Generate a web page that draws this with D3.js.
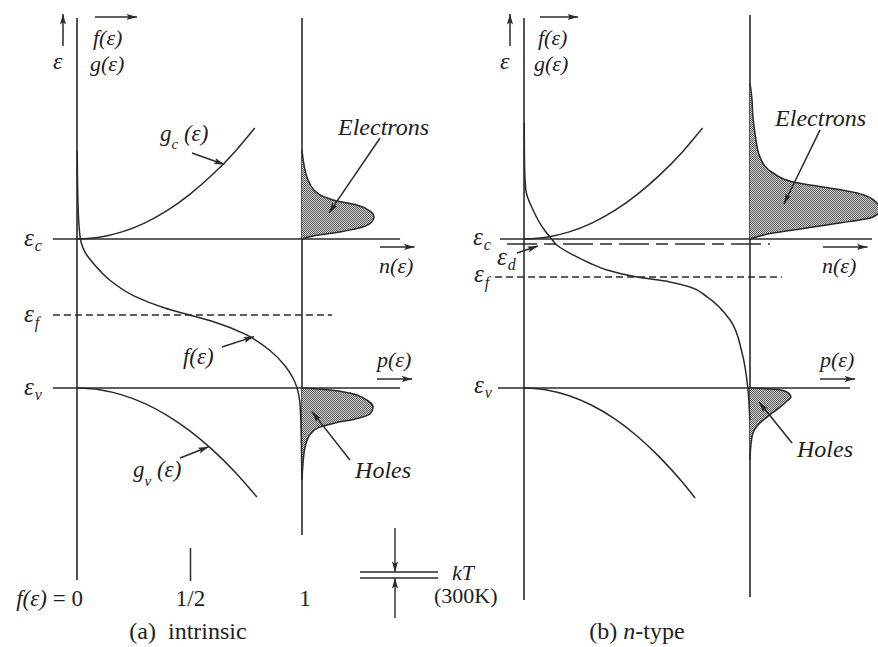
<!DOCTYPE html>
<html><head><meta charset="utf-8">
<script src="https://cdn.jsdelivr.net/npm/d3@7"></script>
<style>
html,body{margin:0;padding:0;background:#fff;}
svg{display:block;}
</style></head><body>
<svg id="c" width="878" height="647"></svg>
<script>
// ---------------- DATA ----------------
// Energy in units where eps_v = 0 and eps_c = 1; f, g, n, p on a 0..1 horizontal scale
const levelsA = {c: 1.0, f: 0.49, v: 0.0};
const levelsB = {c: 1.0, d: 0.966, f: 0.745, v: 0.0};
const fTickLabels = ["0", "1/2", "1"];
const fTickValues = [0, 0.5, 1];
// conduction-band density of states g_c : [g, E]
const gcBand = [[0,1.0],[0.1,1.012],[0.2,1.048],[0.3,1.107],[0.4,1.19],[0.5,1.298],[0.6,1.429],[0.7,1.583],[0.79,1.745]];
// valence-band density of states g_v : [g, E]
const gvA = [[0,0],[0.1,-0.011],[0.2,-0.046],[0.3,-0.103],[0.4,-0.183],[0.5,-0.286],[0.6,-0.412],[0.7,-0.56],[0.8,-0.732]];
const gvB = [[0,0],[0.1,-0.013],[0.2,-0.052],[0.3,-0.116],[0.4,-0.206],[0.5,-0.322],[0.6,-0.464],[0.7,-0.631],[0.757,-0.738]];
// Fermi function f : [f, E]
const fA = [[0.001,1.59],[0.004,1.26],[0.01,1.07],[0.018,0.98],[0.035,0.913],[0.075,0.832],[0.145,0.725],[0.255,0.617],[0.39,0.537],[0.5,0.49],[0.61,0.443],[0.745,0.363],[0.855,0.255],[0.925,0.148],[0.96,0.067],[0.978,0.0],[0.99,-0.09],[0.996,-0.28],[0.999,-0.61]];
const fB = [[0.001,1.78],[0.002,1.53],[0.008,1.33],[0.04,1.195],[0.084,1.074],[0.115,1.013],[0.15,0.953],[0.217,0.893],[0.29,0.839],[0.367,0.792],[0.5,0.745],[0.645,0.712],[0.735,0.678],[0.81,0.611],[0.912,0.456],[0.965,0.235],[0.99,0.007],[0.999,-0.215]];
// electron density n : [n, E]
const nA = [[0,1.597],[0.009,1.497],[0.022,1.416],[0.067,1.309],[0.138,1.262],[0.244,1.228],[0.302,1.188],[0.32,1.148],[0.293,1.094],[0.169,1.047],[0.049,1.02],[0,1.0]];
const nB = [[0,2.047],[0.009,1.933],[0.013,1.82],[0.022,1.711],[0.044,1.55],[0.102,1.443],[0.19,1.383],[0.323,1.349],[0.473,1.309],[0.562,1.242],[0.578,1.195],[0.544,1.148],[0.398,1.107],[0.252,1.074],[0.102,1.04],[0,1.0]];
// hole density p : [p, E]
const pA = [[0,0],[0.124,-0.013],[0.213,-0.034],[0.28,-0.074],[0.316,-0.128],[0.302,-0.174],[0.236,-0.208],[0.147,-0.235],[0.071,-0.268],[0.031,-0.322],[0.013,-0.403],[0.004,-0.517],[0,-0.617]];
const pB = [[0,0],[0.11,-0.008],[0.164,-0.027],[0.181,-0.06],[0.159,-0.094],[0.133,-0.128],[0.075,-0.195],[0.035,-0.248],[0.013,-0.302],[0.004,-0.383],[0,-0.483]];

// ---------------- LAYOUT ----------------
const FONT = '"Liberation Serif", "Times New Roman", serif';
const svg = d3.select('#c');
const INK = '#2a2a2a';
const yE = d3.scaleLinear().domain([0, 1]).range([388, 239]);
const xA = d3.scaleLinear().domain([0, 1]).range([77, 302]);
const xB = d3.scaleLinear().domain([0, 1]).range([524, 750]);

const defs = svg.append('defs');
defs.append('marker').attr('id','ah').attr('viewBox','0 0 12 8').attr('refX',12).attr('refY',4)
  .attr('markerWidth',11).attr('markerHeight',7).attr('markerUnits','userSpaceOnUse').attr('orient','auto')
  .append('path').attr('d','M0,0.5 L12,4 L0,7.5 L2.5,4 Z').attr('fill',INK);
const pat = defs.append('pattern').attr('id','dots').attr('width',2).attr('height',2).attr('patternUnits','userSpaceOnUse');
pat.append('rect').attr('width',2).attr('height',2).attr('fill','#cfcfcf');
pat.append('rect').attr('width',1).attr('height',1).attr('fill','#5e5e5e');
pat.append('rect').attr('x',1).attr('y',1).attr('width',1).attr('height',1).attr('fill','#5e5e5e');

function line(x1,y1,x2,y2,opt={}) {
  const l = svg.append('line').attr('x1',x1).attr('y1',y1).attr('x2',x2).attr('y2',y2)
    .attr('stroke',INK).attr('stroke-width',opt.w||1.6).attr('fill','none');
  if (opt.dash) l.attr('stroke-dasharray',opt.dash);
  if (opt.arrow) l.attr('marker-end','url(#ah)');
  return l;
}
function rich(x, y, segs, size, italic, anchor) {
  const t = svg.append('text').attr('x',x).attr('y',y).attr('font-size',size)
    .attr('font-family', FONT).attr('fill', '#1e1e1e')
    .attr('font-style', italic ? 'italic' : 'normal').attr('text-anchor', anchor || 'start');
  let shift = 0;
  segs.forEach(s => {
    const sp = t.append('tspan').text(s.t);
    const target = s.sub || 0;
    if (target - shift !== 0) sp.attr('dy', target - shift);
    shift = target;
    if (s.size) sp.attr('font-size', s.size);
    if (s.dx) sp.attr('dx', s.dx);
    if (s.style) sp.attr('font-style', s.style);
  });
  return t;
}
function epsLabel(x, y, sub, subDy) {
  rich(x, y, [{t:'ε'}, {t:sub, size:16, sub:subDy, dx:1}], 25, true);
}

function drawPanel(P) {
  const X = P.x;
  const x0 = X(0), x1 = X(1);
  // vertical lines
  line(x0, P.top, x0, P.botL);
  line(x1, P.topR, x1, P.botR);
  // up arrow and axis titles
  line(x0 - 14, P.top + 28, x0 - 14, P.top - 4, {arrow:true, w:1.5});
  rich(x0 - 24, 69, [{t:'ε'}], 24, true);
  line(x0 + P.ax0, P.top - 1, x0 + P.ax1, P.top - 1, {arrow:true, w:1.5});
  rich(x0 + P.fx, 45, [{t:'f(ε)'}], 22, true);
  rich(x0 + P.gx, 71, [{t:'g(ε)'}], 22, true);

  // level lines
  P.solid.forEach(s => line(X(s.u0), yE(s.E), X(s.u1), yE(s.E)));
  P.dashed.forEach(s => line(X(s.u0), yE(s.E), X(s.u1), yE(s.E), {dash:s.dash, w:1.5}));

  // shaded electrons & holes
  const areaN = d3.area().curve(d3.curveMonotoneY).y(d => yE(d[1])).x0(X(1)).x1(d => X(1 + d[0]));
  const lineN = d3.line().curve(d3.curveMonotoneY).y(d => yE(d[1])).x(d => X(1 + d[0]));
  [P.n, P.p].forEach(arr => {
    svg.append('path').datum(arr).attr('d', areaN).attr('fill','url(#dots)');
    svg.append('path').datum(arr).attr('d', lineN).attr('fill','none').attr('stroke',INK).attr('stroke-width',1.5);
  });

  // density of states curves
  const lineG = d3.line().curve(d3.curveMonotoneX).x(d => X(d[0])).y(d => yE(d[1]));
  [P.gc, P.gv].forEach(arr => svg.append('path').datum(arr).attr('d', lineG)
      .attr('fill','none').attr('stroke',INK).attr('stroke-width',1.5));
  // Fermi function
  const lineF = d3.line().curve(d3.curveMonotoneY).x(d => X(d[0])).y(d => yE(d[1]));
  svg.append('path').datum(P.f).attr('d', lineF).attr('fill','none').attr('stroke',INK).attr('stroke-width',1.5);

  // n(ε), p(ε) labels
  line(X(P.nArrow[0]), yE(1) + 8, X(P.nArrow[1]), yE(1) + 8, {arrow:true, w:1.5});
  rich(X(P.nArrow[0]) - 1, yE(1) + 34, [{t:'n(ε)'}], 22, true);
  line(X(P.pArrow[0]), yE(0) - 9, X(P.pArrow[1]), yE(0) - 9, {arrow:true, w:1.5});
  rich(X(P.pArrow[0]), yE(0) - 21, [{t:'p(ε)'}], 22, true);

  // level labels
  P.epsLabels.forEach(l => epsLabel(l.x, l.y, l.sub, l.subDy));

  // annotations (data units)
  P.notes.forEach(a => {
    if (a.arrow) line(X(a.arrow[0]), yE(a.arrow[1]), X(a.arrow[2]), yE(a.arrow[3]), {arrow:true, w:1.5});
    if (a.segs) rich(X(a.u), yE(a.E), a.segs, a.size || 23, a.italic !== false);
  });

  // caption
  rich(P.capX, 639, P.caption, 24, false, 'middle');
}

drawPanel({
  x: xA, top: 18, botL: 580, topR: 18, botR: 535,
  ax0: 18, ax1: 60, fx: 16, gx: 13,
  solid: [{E: levelsA.c, u0: -0.107, u1: 1.436}, {E: levelsA.v, u0: -0.107, u1: 1.436}],
  dashed: [{E: levelsA.f, u0: -0.107, u1: 1.133, dash: '7,4'}],
  n: nA, p: pA, gc: gcBand, gv: gvA, f: fA,
  nArrow: [1.347, 1.5], pArrow: [1.333, 1.49],
  epsLabels: [{x: 24, y: 246, sub: 'c', subDy: 5}, {x: 24, y: 322, sub: 'f', subDy: 6}, {x: 24, y: 395, sub: 'v', subDy: 5}],
  notes: [
    {u: 0.369, E: 1.655, segs: [{t:'g'}, {t:'c', size:15, sub:8}, {t:' (ε)', sub:0}]},
    {arrow: [0.511, 1.577, 0.655, 1.50]},
    {u: 0.249, E: -0.597, segs: [{t:'g'}, {t:'v', size:15, sub:9}, {t:' (ε)', sub:0}]},
    {arrow: [0.458, -0.47, 0.585, -0.394]},
    {u: 0.471, E: 0.161, segs: [{t:'f(ε)'}]},
    {arrow: [0.644, 0.275, 0.787, 0.345]},
    {u: 1.16, E: 1.698, size: 24, segs: [{t:'Electrons'}]},
    {arrow: [1.347, 1.678, 1.12, 1.175]},
    {u: 1.236, E: -0.604, size: 24, segs: [{t:'Holes'}]},
    {arrow: [1.213, -0.483, 1.045, -0.16]}
  ],
  capX: 188, caption: [{t:'(a)\u00A0 intrinsic'}]
});

drawPanel({
  x: xB, top: 18, botL: 600, topR: 15, botR: 597,
  ax0: 16, ax1: 54, fx: 14, gx: 10,
  solid: [{E: levelsB.c, u0: -0.106, u1: 1.54}, {E: levelsB.v, u0: -0.115, u1: 1.442}],
  dashed: [{E: levelsB.d, u0: -0.075, u1: 1.088, dash: '30,7,12,7'}, {E: levelsB.f, u0: -0.128, u1: 1.142, dash: '7,4'}],
  n: nB, p: pB, gc: gcBand, gv: gvB, f: fB,
  nArrow: [1.323, 1.52], pArrow: [1.31, 1.465],
  epsLabels: [{x: 473, y: 245, sub: 'c', subDy: 5}, {x: 497, y: 265, sub: 'd', subDy: 5}, {x: 474, y: 282, sub: 'f', subDy: 6}, {x: 474, y: 393, sub: 'v', subDy: 5}],
  notes: [
    {arrow: [-0.031, 0.906, 0.062, 0.953]},
    {u: 1.111, E: 1.758, size: 24, segs: [{t:'Electrons'}]},
    {arrow: [1.31, 1.732, 1.15, 1.235]},
    {u: 1.208, E: -0.463, size: 24, segs: [{t:'Holes'}]},
    {arrow: [1.186, -0.369, 1.04, -0.095]}
  ],
  capX: 637, caption: [{t:'(b)\u00A0'}, {t:'n', style:'italic'}, {t:'-type', style:'normal'}]
});

// f(ε) tick labels along the bottom of panel (a)
rich(xA(fTickValues[0]) + 6, 606, [{t:'f(ε)', style:'italic'}, {t:' = ' + fTickLabels[0]}], 23, false, 'end');
line(xA(fTickValues[1]) + 1, 548, xA(fTickValues[1]) + 1, 581, {w:1.5});
rich(xA(fTickValues[1]) + 1, 606, [{t:fTickLabels[1]}], 23, false, 'middle');
rich(xA(fTickValues[2]) + 3, 606, [{t:fTickLabels[2]}], 23, false, 'middle');

// kT scale marker
line(360, 572, 438, 572, {w:1.4});
line(360, 578, 438, 578, {w:1.4});
line(395, 528, 395, 572, {arrow:true, w:1.4});
line(395, 618, 395, 578, {arrow:true, w:1.4});
rich(452, 580, [{t:'kT'}], 22, true);
rich(434, 603, [{t:'(300K)'}], 22, false);
</script>
</body></html>
